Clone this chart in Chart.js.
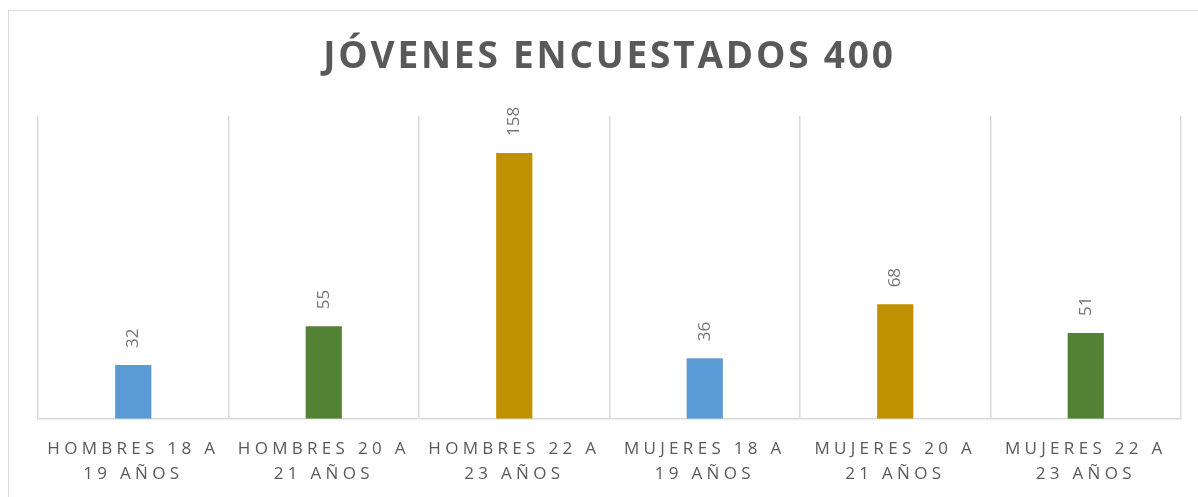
<!DOCTYPE html>
<html>
<head>
<meta charset="utf-8">
<script src="https://cdn.jsdelivr.net/npm/chart.js@4"></script>
<style>
    html, body { margin: 0; padding: 0; background: #fff; overflow: hidden; }
    #wrap { position: relative; width: 1198px; height: 497px; overflow: hidden; }
    #frame { position: absolute; left: 8px; top: 10px; width: 1200px; height: 500px; border: 1px solid #d9d9d9; box-sizing: border-box; }
    canvas { position: absolute; left: 0; top: 0; }
</style>
</head>
<body>
<div id="wrap">
    <div id="frame"></div>
    <canvas id="chart" width="1198" height="497"></canvas>
</div>
<script>
// Jóvenes encuestados chart
const chartTitle = 'JÓVENES ENCUESTADOS 400';
const categories = [
    ['HOMBRES 18 A', '19 AÑOS'],
    ['HOMBRES 20 A', '21 AÑOS'],
    ['HOMBRES 22 A', '23 AÑOS'],
    ['MUJERES 18 A', '19 AÑOS'],
    ['MUJERES 20 A', '21 AÑOS'],
    ['MUJERES 22 A', '23 AÑOS']
];
const counts = [32, 55, 158, 36, 68, 51];
const barColors = ['#5B9BD5', '#548235', '#BF9000', '#5B9BD5', '#BF9000', '#548235'];
const yMax = 180;

const FONT = "'Open Sans', sans-serif";

// title + tick spacing, drawn by hand so letters can be spaced
const spacingPlugin = {
    id: 'spacing',
    beforeDraw(chart) {
        chart.ctx.letterSpacing = '4.3px';
    },
    beforeDatasetsDraw(chart) {
        chart.ctx.letterSpacing = '0px';
    },
    afterDraw(chart) {
        const ctx = chart.ctx;
        const area = chart.chartArea;
        ctx.save();
        ctx.letterSpacing = '2.8px';
        ctx.font = 'bold 37px ' + FONT;
        ctx.fillStyle = '#595959';
        ctx.textAlign = 'center';
        ctx.textBaseline = 'middle';
        ctx.fillText(chartTitle, (area.left + area.right) / 2, 57);
        ctx.restore();
    }
};

// rotated value labels above each bar
const valueLabels = {
    id: 'valueLabels',
    afterDatasetsDraw(chart) {
        const ctx = chart.ctx;
        const meta = chart.getDatasetMeta(0);
        ctx.save();
        ctx.letterSpacing = '0px';
        ctx.font = '17px ' + FONT;
        ctx.fillStyle = '#757575';
        ctx.textAlign = 'left';
        ctx.textBaseline = 'middle';
        meta.data.forEach((bar, i) => {
            ctx.save();
            ctx.translate(bar.x, bar.y - 17);
            ctx.rotate(-Math.PI / 2);
            ctx.fillText(String(counts[i]), 0, 0);
            ctx.restore();
        });
        ctx.restore();
    }
};

const ctx = document.getElementById('chart').getContext('2d');
const chart = new Chart(ctx, {
    type: 'bar',
    data: {
        labels: categories,
        datasets: [{
            data: counts,
            backgroundColor: barColors,
            barPercentage: 0.19,
            categoryPercentage: 1
        }]
    },
    options: {
        responsive: false,
        animation: false,
        layout: {
            padding: { top: 116, left: 38, right: 17, bottom: -7 }
        },
        plugins: {
            legend: { display: false },
            title: { display: false },
            tooltip: { enabled: false }
        },
        scales: {
            x: {
                offset: true,
                grid: {
                    offset: true,
                    color: '#d9d9d9',
                    lineWidth: 1.5,
                    drawTicks: false
                },
                border: { color: '#d9d9d9', width: 1.5 },
                ticks: {
                    color: '#595959',
                    font: { family: FONT, size: 17, lineHeight: 1.45 },
                    padding: 18,
                    maxRotation: 0,
                    autoSkip: false
                }
            },
            y: {
                display: false,
                min: 0,
                max: yMax
            }
        }
    },
    plugins: [spacingPlugin, valueLabels]
});
</script>
</body>
</html>
